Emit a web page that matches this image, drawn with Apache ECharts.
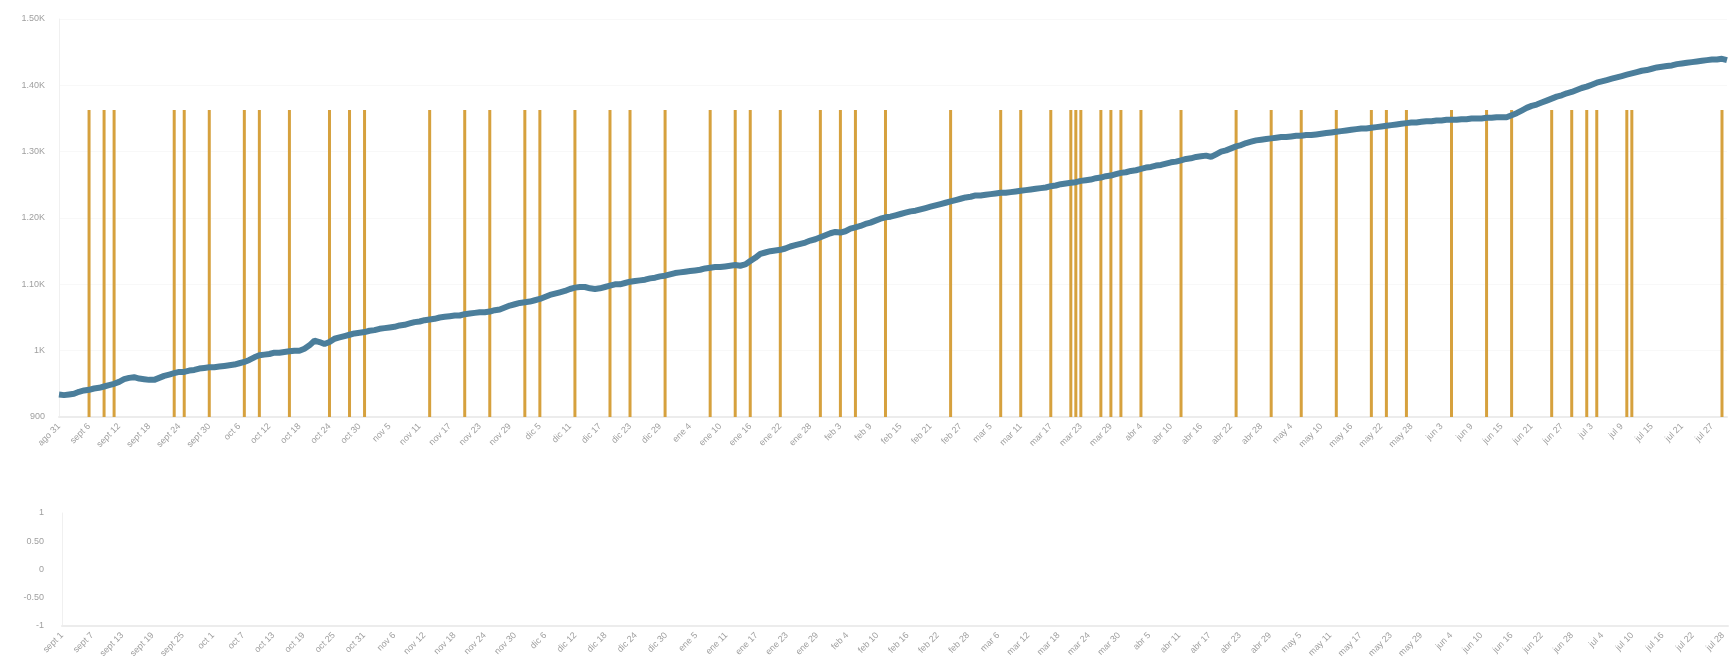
<!DOCTYPE html>
<html>
<head>
<meta charset="utf-8">
<script src="https://cdn.jsdelivr.net/npm/echarts@6/dist/echarts.min.js"></script>
<style>
html,body{margin:0;padding:0;background:#fff;}
#chart{width:1730px;height:671px;}
</style>
</head>
<body>
<div id="chart"></div>
<script>
// ---- data ----
const monthNames = ['ene','feb','mar','abr','may','jun','jul','ago','sept','oct','nov','dic'];
const topStart = [2020, 7, 31];   // ago 31
const topDays = 334;
const bottomStart = [2020, 8, 1]; // sept 1
const bottomDays = 332;

const lineValues = [
  934, 933, 934, 935, 938, 940, 941, 943, 944, 946,
  948, 950, 953, 957, 959, 960, 958, 957, 956, 956,
  959, 962, 964, 966, 968, 968, 970, 971, 973, 974,
  975, 975, 976, 977, 978, 979, 981, 983, 986, 990,
  993, 994, 995, 997, 997, 998, 999, 1000, 1000, 1003,
  1008, 1015, 1013, 1010, 1013, 1018, 1020, 1022, 1024, 1026,
  1027, 1028, 1030, 1031, 1033, 1034, 1035, 1036, 1038, 1039,
  1041, 1043, 1044, 1046, 1047, 1048, 1050, 1051, 1052, 1053,
  1053, 1055, 1056, 1057, 1058, 1058, 1059, 1061, 1062, 1065,
  1068, 1070, 1072, 1073, 1074, 1076, 1078, 1081, 1084, 1086,
  1088, 1090, 1093, 1095, 1096, 1096, 1094, 1093, 1094, 1096,
  1098, 1100, 1100, 1102, 1104, 1105, 1106, 1107, 1109, 1110,
  1112, 1113, 1115, 1117, 1118, 1119, 1120, 1121, 1122, 1124,
  1125, 1126, 1126, 1127, 1128, 1129, 1128, 1130, 1135, 1140,
  1146, 1148, 1150, 1151, 1152, 1154, 1157, 1159, 1161, 1163,
  1166, 1168, 1171, 1174, 1177, 1179, 1178, 1180, 1184, 1186,
  1188, 1191, 1193, 1196, 1199, 1201, 1202, 1204, 1206, 1208,
  1210, 1211, 1213, 1215, 1217, 1219, 1221, 1223, 1225, 1227,
  1229, 1231, 1232, 1234, 1234, 1235, 1236, 1237, 1238, 1238,
  1239, 1240, 1241, 1242, 1243, 1244, 1245, 1246, 1248, 1249,
  1251, 1252, 1253, 1254, 1256, 1257, 1258, 1260, 1261, 1263,
  1264, 1266, 1268, 1269, 1271, 1272, 1274, 1276, 1277, 1279,
  1280, 1282, 1284, 1285, 1287, 1289, 1290, 1292, 1293, 1294,
  1292, 1296, 1300, 1302, 1305, 1308, 1310, 1313, 1315, 1317,
  1318, 1319, 1320, 1321, 1322, 1322, 1323, 1324, 1324, 1325,
  1325, 1326, 1327, 1328, 1329, 1330, 1331, 1332, 1333, 1334,
  1335, 1335, 1336, 1337, 1338, 1339, 1340, 1341, 1342, 1343,
  1344, 1344, 1345, 1346, 1346, 1347, 1347, 1348, 1348, 1348,
  1349, 1349, 1350, 1350, 1350, 1351, 1351, 1352, 1352, 1352,
  1355, 1358, 1362, 1366, 1369, 1371, 1374, 1377, 1380, 1383,
  1385, 1388, 1390, 1393, 1396, 1398, 1401, 1404, 1406, 1408,
  1410, 1412, 1414, 1416, 1418, 1420, 1422, 1423, 1425, 1427,
  1428, 1429, 1430, 1432, 1433, 1434, 1435, 1436, 1437, 1438,
  1439, 1439, 1440, 1438
];

const eventDates = [
  'sept 6','sept 9','sept 11','sept 23','sept 25','sept 30',
  'oct 7','oct 10','oct 16','oct 24','oct 28','oct 31',
  'nov 13','nov 20','nov 25',
  'dic 2','dic 5','dic 12','dic 19','dic 23','dic 30',
  'ene 8','ene 13','ene 16','ene 22','ene 30',
  'feb 3','feb 6','feb 12','feb 25',
  'mar 7','mar 11','mar 17','mar 21','mar 22','mar 23','mar 27','mar 29','mar 31',
  'abr 4','abr 12','abr 23','abr 30',
  'may 6','may 13','may 20','may 23','may 27',
  'jun 5','jun 12','jun 17','jun 25','jun 29',
  'jul 2','jul 4','jul 10','jul 11','jul 29'
];
const eventValue = 1363;

const topYTicks = {min: 900, max: 1500, interval: 100};
const bottomYTicks = {min: -1, max: 1, interval: 0.5};

// ---- build ----
function dateLabels(start, n){
  const out = [];
  for (let i = 0; i < n; i++){
    const d = new Date(Date.UTC(start[0], start[1], start[2] + i));
    out.push(monthNames[d.getUTCMonth()] + ' ' + d.getUTCDate());
  }
  return out;
}
const topCats = dateLabels(topStart, topDays);
const bottomCats = dateLabels(bottomStart, bottomDays);
const barData = topCats.map(c => eventDates.includes(c) ? eventValue : null);

function fmt(v){
  if (Math.abs(v) >= 1000){
    const k = Math.round(v / 10) / 100;
    return (Number.isInteger(k) ? String(k) : k.toFixed(2)) + 'K';
  }
  return Number.isInteger(v) ? String(v) : v.toFixed(2);
}

const labelColor = '#9f9f9f';
const font = 'Liberation Sans, Arial, sans-serif';

const chart = echarts.init(document.getElementById('chart'), null, {renderer: 'canvas'});
chart.setOption({
  animation: false,
  backgroundColor: '#ffffff',
  grid: [
    {left: 59, right: 3, top: 19, height: 398},
    {left: 62, right: 2, top: 513, height: 113}
  ],
  xAxis: [
    {
      type: 'category', gridIndex: 0, data: topCats, boundaryGap: false,
      axisLine: {show: true, onZero: false, lineStyle: {color: '#ececec', width: 2}},
      axisTick: {show: false},
      axisLabel: {interval: 5, rotate: 45, color: labelColor, fontSize: 9, fontFamily: font, margin: 8},
      splitLine: {show: false}
    },
    {
      type: 'category', gridIndex: 1, data: bottomCats, boundaryGap: false,
      axisLine: {show: true, onZero: false, lineStyle: {color: '#ececec', width: 2}},
      axisTick: {show: false},
      axisLabel: {interval: 5, rotate: 45, color: labelColor, fontSize: 9, fontFamily: font, margin: 8},
      splitLine: {show: false}
    }
  ],
  yAxis: [
    {
      type: 'value', gridIndex: 0, min: topYTicks.min, max: topYTicks.max, interval: topYTicks.interval,
      axisLine: {show: true, lineStyle: {color: '#f0f0f0'}},
      axisTick: {show: false},
      axisLabel: {formatter: fmt, color: labelColor, fontSize: 9, fontFamily: font, margin: 14},
      splitLine: {show: true, lineStyle: {color: '#f8f8f8'}}
    },
    {
      type: 'value', gridIndex: 1, min: bottomYTicks.min, max: bottomYTicks.max, interval: bottomYTicks.interval,
      axisLine: {show: true, lineStyle: {color: '#f0f0f0'}},
      axisTick: {show: false},
      axisLabel: {formatter: fmt, color: labelColor, fontSize: 9, fontFamily: font, margin: 18},
      splitLine: {show: false}
    }
  ],
  series: [
    {
      type: 'bar', xAxisIndex: 0, yAxisIndex: 0, data: barData,
      barWidth: 3, itemStyle: {color: '#d6a13e'}, z: 2
    },
    {
      type: 'line', xAxisIndex: 0, yAxisIndex: 0, data: lineValues,
      showSymbol: false, lineStyle: {color: '#4b7e9b', width: 6}, z: 3
    },
    {
      type: 'line', xAxisIndex: 1, yAxisIndex: 1, data: [],
      showSymbol: false
    }
  ]
});
</script>
</body>
</html>
